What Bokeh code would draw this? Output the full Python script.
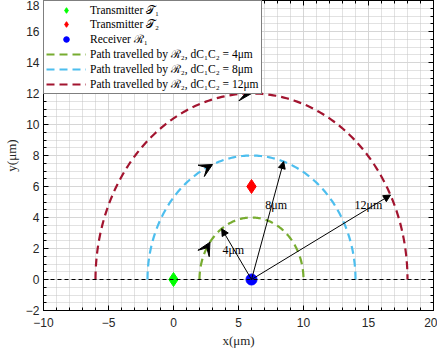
import numpy as np
from bokeh.plotting import figure
from bokeh.models import (Arrow, NormalHead, VeeHead, Span, LinearAxis, SingleIntervalTicker,
                          Legend, LegendItem, Range1d, CustomJSTickFormatter)
from bokeh.core.properties import value
from bokeh.embed import file_html
from bokeh.resources import INLINE

# ---- data ----
center = (6, 0)
tx1 = (0, 0)
tx2 = (6, 6)
rx1 = (6, 0)
radii = [4, 8, 12]
path_colors = ["#77AC30", "#4DBEEE", "#A2142F"]
path_labels = ["Path travelled by ℛ₂, dC₁C₂ = 4μm",
               "Path travelled by ℛ₂, dC₁C₂ = 8μm",
               "Path travelled by ℛ₂, dC₁C₂ = 12μm"]
dir_arrow_deg = [143, 112, 90]      # position of direction arrowheads on arcs
radius_arrow_deg = [125, 72, 27]    # direction of radius arrows
radius_labels = ["4μm", "8μm", "12μm"]
label_x = [4.6, 7.9, 15.0]
label_y = [1.9, 4.8, 4.8]
x_ticks_major = 5
y_ticks_major = 2

SERIF = "Liberation Serif"
SANS = "Liberation Sans"

p = figure(frame_width=390, frame_height=310, output_backend="svg", toolbar_location=None,
           x_range=Range1d(-10, 20), y_range=Range1d(-2, 18),
           min_border_left=35, min_border_right=4, min_border_top=0, min_border_bottom=0)
p.background_fill_color = "white"
p.outline_line_color = "black"
p.outline_line_width = 1

# axes/ticks
p.xaxis.ticker = SingleIntervalTicker(interval=x_ticks_major, num_minor_ticks=5)
p.yaxis.ticker = SingleIntervalTicker(interval=y_ticks_major, num_minor_ticks=4)
for ax in [p.xaxis[0], p.yaxis[0]]:
    ax.major_tick_in = 5
    ax.major_tick_out = 0
    ax.minor_tick_in = 3
    ax.minor_tick_out = 0
    ax.axis_line_color = "black"
    ax.major_tick_line_color = "black"
    ax.minor_tick_line_color = "black"
    ax.major_label_text_font = SANS
    ax.major_label_text_font_size = "12px"
    ax.major_label_text_color = "#262626"
    ax.axis_label_text_font = SERIF
    ax.axis_label_text_font_style = "normal"
    ax.axis_label_text_font_size = "13px"
    ax.axis_label_text_color = "#262626"
p.xaxis.major_label_standoff = 7
p.xaxis.axis_label_standoff = 3
p.yaxis.major_label_standoff = 4
p.yaxis.axis_label_standoff = 4
p.xaxis.axis_label = "x(μm)"
p.yaxis.axis_label = "y(μm)"

for loc, tick_int, nminor in [("right", y_ticks_major, 4), ("above", x_ticks_major, 5)]:
    ax = LinearAxis(ticker=SingleIntervalTicker(interval=tick_int, num_minor_ticks=nminor),
                    formatter=CustomJSTickFormatter(code="return ''"))
    ax.major_tick_in = 5
    ax.major_tick_out = 0
    ax.minor_tick_in = 3
    ax.minor_tick_out = 0
    ax.major_label_text_color = None
    ax.major_label_text_font_size = "0px"
    ax.major_label_standoff = 0
    ax.axis_line_color = "black"
    p.add_layout(ax, loc)

p.xgrid.ticker = p.xaxis[0].ticker
p.ygrid.ticker = p.yaxis[0].ticker
for g in [p.xgrid[0], p.ygrid[0]]:
    g.grid_line_color = "#d6d6d6"
    g.grid_line_width = 1
    g.minor_grid_line_color = "#c4c4c4"
    g.minor_grid_line_dash = "1 1"
    g.minor_grid_line_width = 1

# baseline dashed
p.add_layout(Span(location=0, dimension="width", line_color="black", line_width=1,
                  line_dash="4 3"))

items = []
# markers
r_t1 = p.scatter([tx1[0]], [tx1[1]], marker="diamond", size=14, fill_color="#00FF00",
                 line_color="#00FF00")
r_t2 = p.scatter([tx2[0]], [tx2[1]], marker="diamond", size=14, fill_color="#FF0000",
                 line_color="#FF0000")
items.append(LegendItem(label="Transmitter 𝒯₁", renderers=[r_t1]))
items.append(LegendItem(label="Transmitter 𝒯₂", renderers=[r_t2]))

# arcs
arc_renderers = []
theta = np.linspace(np.pi, 0, 181)
for r, c, lab in zip(radii, path_colors, path_labels):
    xs = center[0] + r * np.cos(theta)
    ys = center[1] + r * np.sin(theta)
    rr = p.line(xs, ys, line_color=c, line_width=2.2, line_dash="8 5")
    arc_renderers.append((rr, lab))

r_rx = p.scatter([rx1[0]], [rx1[1]], marker="circle", size=11, fill_color="#0000FF",
                 line_color="#0000FF")
items.append(LegendItem(label="Receiver ℛ₁", renderers=[r_rx]))
for rr, lab in arc_renderers:
    items.append(LegendItem(label=lab, renderers=[rr]))

# direction arrowheads on arcs
for r, d in zip(radii, dir_arrow_deg):
    t_end = np.deg2rad(d)
    t_start = np.deg2rad(d + 6)
    p.add_layout(Arrow(end=VeeHead(size=13, fill_color="black", line_color="black", line_width=1),
                       x_start=center[0] + r * np.cos(t_start), y_start=center[1] + r * np.sin(t_start),
                       x_end=center[0] + r * np.cos(t_end), y_end=center[1] + r * np.sin(t_end),
                       line_width=0, line_alpha=0))

# radius arrows
for r, d in zip(radii, radius_arrow_deg):
    t = np.deg2rad(d)
    p.add_layout(Arrow(end=NormalHead(size=7, fill_color="black", line_color="black", line_width=1),
                       x_start=center[0], y_start=center[1],
                       x_end=center[0] + r * np.cos(t), y_end=center[1] + r * np.sin(t),
                       line_color="black", line_width=1))

p.text(x=label_x, y=label_y, text=radius_labels, text_font=value(SERIF),
       text_font_size="12px", text_align="center", text_baseline="middle", text_color="black")

legend = Legend(items=items, location="top_left")
legend.label_text_font = SERIF
legend.label_text_font_size = "11.5px"
legend.label_text_color = "black"
legend.label_height = 12
legend.label_standoff = 4
legend.glyph_height = 14
legend.glyph_width = 40
legend.spacing = 0
legend.padding = 2
legend.margin = 0
legend.border_line_color = "black"
legend.border_line_width = 1
legend.background_fill_alpha = 1.0
p.add_layout(legend)

open("out.html", "w").write(file_html(p, INLINE))
